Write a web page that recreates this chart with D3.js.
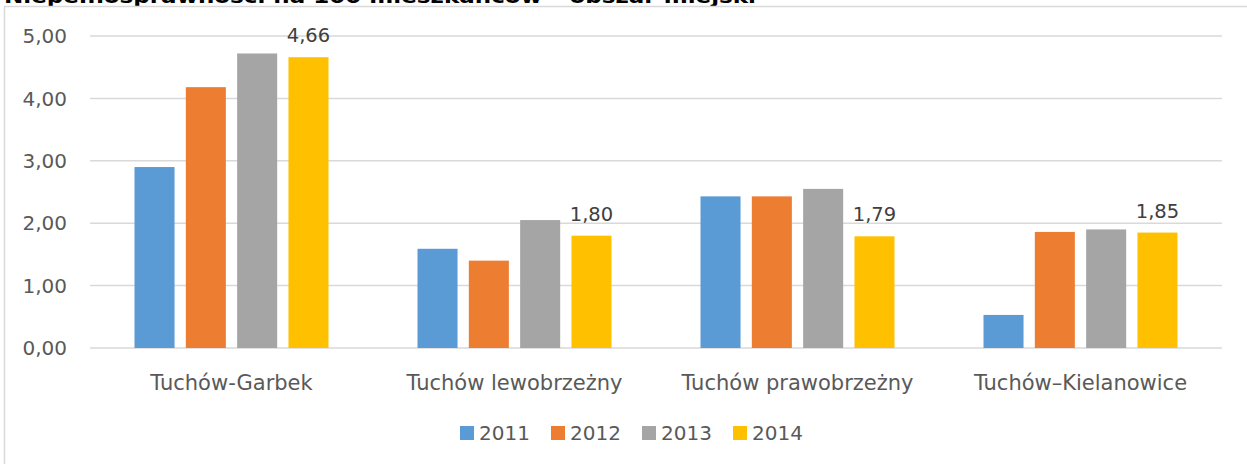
<!DOCTYPE html>
<html>
<head>
<meta charset="utf-8">
<script src="https://cdn.jsdelivr.net/npm/d3@7"></script>
<style>
  body { margin: 0; background: #fff; }
  text { font-family: "DejaVu Sans", Verdana, sans-serif; }
</style>
</head>
<body>
<svg width="1247" height="464"></svg>
<script>
"use strict";

const categories = ['Tuchów-Garbek', 'Tuchów lewobrzeżny', 'Tuchów prawobrzeżny', 'Tuchów–Kielanowice'];
const years = ['2011', '2012', '2013', '2014'];
const values2011 = [2.90, 1.59, 2.43, 0.53];
const values2012 = [4.18, 1.40, 2.43, 1.86];
const values2013 = [4.72, 2.05, 2.55, 1.90];
const values2014 = [4.66, 1.80, 1.79, 1.85];
const yTicks = [0, 1, 2, 3, 4, 5];
const titleText = 'Niepełnosprawności na 100 mieszkańców – obszar miejski';

const colorMapping = {
    '2011': '#5b9bd5',
    '2012': '#ed7d31',
    '2013': '#a5a5a5',
    '2014': '#ffc000'
};

const series = {
    '2011': values2011,
    '2012': values2012,
    '2013': values2013,
    '2014': values2014
};

const svg = d3.select('svg');
const fmt = v => d3.format('.2f')(v).replace('.', ',');

// frame and clipped title (only its lower edge shows, as in the source)
svg.append('text')
    .attr('x', 4)
    .attr('y', 3)
    .attr('font-size', '20px')
    .attr('font-weight', 'bold')
    .attr('fill', '#000')
    .attr('textLength', 752)
    .attr('lengthAdjust', 'spacingAndGlyphs')
    .text(titleText);

svg.append('path')
    .attr('d', 'M4.5,464 V6.5 H1247')
    .attr('fill', 'none')
    .attr('stroke', '#d9d9d9')
    .attr('stroke-width', 1.5);

const left = 90, right = 1222;
const x0 = d3.scaleBand().domain(categories).range([left, right]);
const x1 = d3.scaleBand().domain(years)
    .range([(x0.bandwidth() - 194) / 2, (x0.bandwidth() + 194) / 2])
    .paddingInner(0.22);
const y = d3.scaleLinear().domain([0, 5]).range([348, 36]);

// grid
svg.append('g')
    .selectAll('line')
    .data(yTicks)
    .join('line')
    .attr('x1', left)
    .attr('x2', right)
    .attr('y1', d => y(d))
    .attr('y2', d => y(d))
    .attr('stroke', '#d9d9d9')
    .attr('stroke-width', 1.5);

// y labels
svg.append('g')
    .selectAll('text')
    .data(yTicks)
    .join('text')
    .attr('x', 67)
    .attr('y', d => y(d))
    .attr('dy', '0.36em')
    .attr('text-anchor', 'end')
    .attr('font-size', '20px')
    .attr('fill', '#595959')
    .text(fmt);

// bars
const groups = svg.append('g')
    .selectAll('g')
    .data(categories)
    .join('g')
    .attr('transform', d => `translate(${x0(d)},0)`);

groups.selectAll('rect')
    .data((c, i) => years.map(yr => ({year: yr, value: series[yr][i]})))
    .join('rect')
    .attr('x', d => x1(d.year))
    .attr('width', x1.bandwidth())
    .attr('y', d => y(d.value))
    .attr('height', d => y(0) - y(d.value))
    .attr('fill', d => colorMapping[d.year]);

// data labels on 2014
groups.append('text')
    .attr('x', x1('2014') + x1.bandwidth() / 2)
    .attr('y', (c, i) => y(values2014[i]) - 15)
    .attr('text-anchor', 'middle')
    .attr('font-size', '19.5px')
    .attr('fill', '#404040')
    .text((c, i) => fmt(values2014[i]));

// category labels
groups.append('text')
    .attr('x', x0.bandwidth() / 2)
    .attr('y', 390)
    .attr('text-anchor', 'middle')
    .attr('font-size', '21px')
    .attr('fill', '#595959')
    .text(d => d);

// legend
const legend = svg.append('g')
    .selectAll('g')
    .data(years)
    .join('g')
    .attr('transform', (d, i) => `translate(${460 + i * 91},426)`);

legend.append('rect')
    .attr('width', 14)
    .attr('height', 14)
    .attr('fill', d => colorMapping[d]);

legend.append('text')
    .attr('x', 19)
    .attr('y', 7)
    .attr('dy', '0.36em')
    .attr('font-size', '20px')
    .attr('fill', '#595959')
    .text(d => d);
</script>
</body>
</html>
